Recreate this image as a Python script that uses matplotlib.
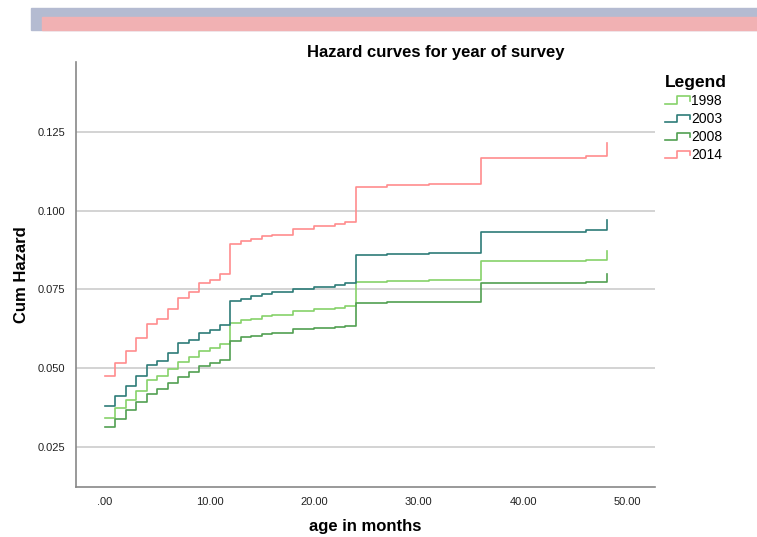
# hazard curves for year of survey
# plot.py

import numpy as np
import matplotlib
matplotlib.use("Agg")
import matplotlib.pyplot as plt
from matplotlib.patches import Rectangle
from matplotlib.lines import Line2D
from matplotlib.legend_handler import HandlerBase

plt.rcParams["font.family"] = ["Liberation Sans", "DejaVu Sans"]

# data
months = [0, 1, 2, 3, 4, 5, 6, 7, 8, 9, 10, 11, 12, 13, 14, 15, 16, 18, 20,
          22, 23, 24, 27, 31, 36, 46, 48]

haz_1998 = [0.0341, 0.0372, 0.0399, 0.0428, 0.0462, 0.0475, 0.0496, 0.0520,
            0.0534, 0.0555, 0.0562, 0.0575, 0.0643, 0.0652, 0.0657, 0.0665,
            0.0668, 0.0680, 0.0686, 0.0691, 0.0696, 0.0773, 0.0775, 0.0778,
            0.0840, 0.0844, 0.0873]
haz_2003 = [0.0378, 0.0410, 0.0442, 0.0475, 0.0508, 0.0523, 0.0548, 0.0578,
            0.0590, 0.0611, 0.0621, 0.0637, 0.0713, 0.0720, 0.0728, 0.0736,
            0.0740, 0.0752, 0.0757, 0.0765, 0.0770, 0.0858, 0.0862, 0.0866,
            0.0931, 0.0937, 0.0970]
haz_2008 = [0.0312, 0.0339, 0.0367, 0.0393, 0.0418, 0.0432, 0.0451, 0.0472,
            0.0488, 0.0506, 0.0515, 0.0525, 0.0587, 0.0597, 0.0602, 0.0608,
            0.0612, 0.0623, 0.0626, 0.0629, 0.0633, 0.0705, 0.0709, 0.0711,
            0.0770, 0.0773, 0.0800]
haz_2014 = [0.0475, 0.0517, 0.0554, 0.0594, 0.0641, 0.0657, 0.0687, 0.0721,
            0.0743, 0.0770, 0.0781, 0.0798, 0.0895, 0.0903, 0.0911, 0.0918,
            0.0924, 0.0942, 0.0950, 0.0956, 0.0963, 0.1076, 0.1081, 0.1085,
            0.1168, 0.1174, 0.1215]

years = ["1998", "2003", "2008", "2014"]
colors = ["#86d26a", "#2d7c78", "#52a052", "#ff8c8e"]

xticks = [0, 10, 20, 30, 40, 50]
xtick_labels = [".00", "10.00", "20.00", "30.00", "40.00", "50.00"]
yticks = [0.025, 0.050, 0.075, 0.100, 0.125]
ytick_labels = ["0.025", "0.050", "0.075", "0.100", "0.125"]


class StepHandler(HandlerBase):
    """little step shaped legend key, like the SPSS one"""

    def create_artists(self, legend, orig_handle, xdescent, ydescent,
                       width, height, fontsize, trans):
        x0 = -xdescent
        lo = -ydescent + 0.1 * height
        hi = -ydescent + 0.85 * height
        xs = [x0, x0 + 0.5 * width, x0 + 0.5 * width, x0 + width, x0 + width]
        ys = [lo, lo, hi, hi, lo + 0.3 * height]
        ln = Line2D(xs, ys, color=orig_handle.get_color(), lw=1.2,
                    transform=trans)
        return [ln]


fig = plt.figure(figsize=(7.57, 5.37), dpi=100)

# banner strip at the top
fig.patches.append(Rectangle((31 / 757, 1 - 30 / 537), 1, 22 / 537,
                             transform=fig.transFigure, color="#b4bbd1",
                             zorder=0))
fig.patches.append(Rectangle((42 / 757, 1 - 30 / 537), 1, 13 / 537,
                             transform=fig.transFigure, color="#f1b1b3",
                             zorder=1))

ax = fig.add_axes([76 / 757, 1 - 487 / 537, (655 - 76) / 757, (487 - 62) / 537])

handles = []
for yr, vals, c in zip(years, [haz_1998, haz_2003, haz_2008, haz_2014], colors):
    (ln,) = ax.step(months, vals, where="post", color=c, lw=1.2, label=yr)
    handles.append(ln)

ax.set_xlim(-2.78, 52.63)
ax.set_ylim(0.0122, 0.1472)
ax.set_xticks(xticks)
ax.set_xticklabels(xtick_labels)
ax.set_yticks(yticks)
ax.set_yticklabels(ytick_labels)
ax.tick_params(length=0, labelsize=8, colors="#222222")
ax.tick_params(axis="y", pad=8)
ax.tick_params(axis="x", pad=7)

ax.grid(axis="y", color="#cccccc", lw=1.2)
ax.set_axisbelow(True)
for s in ["top", "right"]:
    ax.spines[s].set_visible(False)
for s in ["left", "bottom"]:
    ax.spines[s].set_color("#888888")
    ax.spines[s].set_linewidth(1.2)

ax.set_xlabel("age in months", fontsize=12, fontweight="bold", labelpad=9)
ax.set_ylabel("Cum Hazard", fontsize=12, fontweight="bold", labelpad=6)

fig.text(436 / 757, 1 - 52 / 537, "Hazard curves for year of survey",
         ha="center", va="center", fontsize=12, fontweight="bold")

leg = fig.legend(handles, years, loc="upper left",
                 bbox_to_anchor=(659 / 757, 1 - 69 / 537),
                 handler_map={Line2D: StepHandler()},
                 title="Legend", frameon=False, fontsize=10,
                 handlelength=1.8, handletextpad=0.1, labelspacing=0.3,
                 borderaxespad=0)
leg.get_title().set_fontweight("bold")
leg.get_title().set_fontsize(12.5)
leg._legend_box.align = "left"

fig.savefig("out.png", dpi=100)
